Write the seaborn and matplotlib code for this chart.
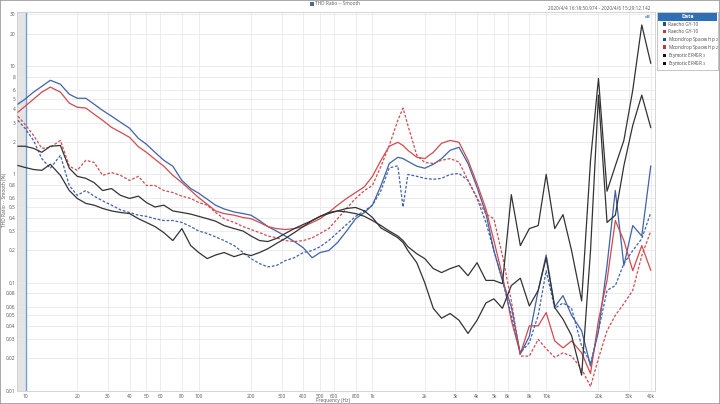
import numpy as np
import pandas as pd
import matplotlib
matplotlib.use("Agg")
import matplotlib.pyplot as plt
import seaborn as sns
from matplotlib.patches import Rectangle
from matplotlib.ticker import FixedLocator, FixedFormatter, NullLocator

# ---------------- data (THD ratio, %, vs frequency, Hz) ----------------
freq = [9.1, 10, 11.2, 12.5, 14, 16, 18, 20, 22.4, 25,
        28, 31.5, 35.5, 40, 45, 50, 56, 63, 71, 80,
        90, 100, 112, 125, 140, 160, 180, 200, 224, 250,
        280, 315, 355, 400, 450, 500, 560, 630, 710, 800,
        900, 1000, 1120, 1250, 1400, 1500, 1600, 1800, 2000, 2240,
        2500, 2800, 3150, 3550, 4000, 4500, 5000, 5600, 6300, 7100,
        8000, 9000, 10000, 11200, 12500, 14000, 16000, 18000, 20000, 22400,
        25000, 28000, 31500, 35500, 40000]

raecho_l = [4.45, 4.95, 5.75, 6.5, 7.4, 6.8, 5.5, 5.05, 5.05, 4.45,
            3.9, 3.45, 3.03, 2.67, 2.15, 1.9, 1.6, 1.35, 1.19, 0.88,
            0.74, 0.67, 0.59, 0.52, 0.48, 0.45, 0.435, 0.42, 0.375, 0.33,
            0.30, 0.27, 0.24, 0.21, 0.17, 0.19, 0.198, 0.235, 0.30, 0.39,
            0.445, 0.52, 0.79, 1.26, 1.44, 1.4, 1.32, 1.19, 1.14, 1.24,
            1.4, 1.67, 1.78, 1.26, 0.76, 0.435, 0.198, 0.105, 0.06, 0.022,
            0.032, 0.085, 0.18, 0.06, 0.076, 0.05, 0.036, 0.017, 0.036, 0.144,
            0.71, 0.144, 0.337, 0.27, 1.2]

raecho_r = [3.75, 4.25, 4.95, 5.75, 6.4, 5.75, 4.55, 4.17, 4.1, 3.6,
            3.16, 2.72, 2.45, 2.2, 1.8, 1.6, 1.38, 1.19, 0.98, 0.84,
            0.71, 0.61, 0.53, 0.46, 0.435, 0.42, 0.40, 0.39, 0.36, 0.33,
            0.316, 0.31, 0.316, 0.33, 0.36, 0.39, 0.445, 0.52, 0.6, 0.68,
            0.77, 0.96, 1.35, 1.82, 1.98, 1.85, 1.67, 1.44, 1.4, 1.6,
            1.94, 2.06, 1.98, 1.35, 0.82, 0.48, 0.245, 0.116, 0.045, 0.022,
            0.04, 0.04, 0.053, 0.029, 0.025, 0.029, 0.0225, 0.0145, 0.045, 0.105,
            0.375, 0.245, 0.129, 0.22, 0.13]

moondrop_l = [3.16, 2.67, 2.06, 1.4, 1.14, 1.5, 0.79, 0.64, 0.71, 0.63,
              0.57, 0.52, 0.47, 0.445, 0.42, 0.41, 0.39, 0.375, 0.375, 0.36,
              0.33, 0.30, 0.285, 0.265, 0.245, 0.22, 0.19, 0.167, 0.15, 0.14,
              0.144, 0.16, 0.17, 0.19, 0.198, 0.215, 0.245, 0.29, 0.345, 0.41,
              0.46, 0.52, 0.71, 1.15, 1.2, 0.5, 1.0, 0.96, 0.92, 0.9,
              0.92, 1.0, 1.02, 0.88, 0.6, 0.36, 0.198, 0.105, 0.05, 0.0225,
              0.028, 0.05, 0.129, 0.058, 0.065, 0.058, 0.026, 0.018, 0.036, 0.085,
              0.094, 0.15, 0.198, 0.255, 0.445]

moondrop_r = [3.45, 2.9, 2.3, 1.74, 1.78, 2.06, 1.19, 1.09, 1.35, 1.29,
              0.98, 1.04, 0.98, 0.88, 0.96, 0.79, 0.79, 0.71, 0.68, 0.63,
              0.6, 0.55, 0.52, 0.445, 0.39, 0.36, 0.33, 0.31, 0.29, 0.27,
              0.26, 0.245, 0.24, 0.245, 0.26, 0.285, 0.316, 0.39, 0.485, 0.6,
              0.71, 0.79, 1.19, 1.85, 3.16, 4.1, 2.84, 1.5, 1.29, 1.26,
              1.35, 1.4, 1.3, 0.88, 0.61, 0.43, 0.39, 0.178, 0.068, 0.021,
              0.021, 0.03, 0.0245, 0.0205, 0.0225, 0.021, 0.016, 0.011, 0.02, 0.036,
              0.05, 0.064, 0.085, 0.178, 0.30]

etymotic_1 = [1.82, 1.82, 1.74, 1.6, 1.82, 1.85, 1.14, 0.96, 0.92, 0.84,
              0.71, 0.74, 0.64, 0.6, 0.63, 0.55, 0.5, 0.52, 0.46, 0.445,
              0.43, 0.41, 0.39, 0.37, 0.337, 0.316, 0.30, 0.27, 0.245, 0.24,
              0.256, 0.285, 0.316, 0.345, 0.375, 0.41, 0.435, 0.46, 0.485, 0.495,
              0.46, 0.40, 0.32, 0.29, 0.26, 0.235, 0.198, 0.153, 0.1, 0.058,
              0.047, 0.052, 0.045, 0.034, 0.045, 0.065, 0.071, 0.058, 0.094, 0.11,
              0.061, 0.085, 0.17, 0.059, 0.046, 0.0325, 0.014, 0.198, 5.4, 0.36,
              0.42, 1.2, 2.84, 5.4, 2.7]

etymotic_2 = [1.21, 1.16, 1.11, 1.09, 1.24, 0.98, 0.71, 0.6, 0.54, 0.52,
              0.485, 0.46, 0.445, 0.435, 0.39, 0.36, 0.33, 0.29, 0.245, 0.316,
              0.22, 0.19, 0.167, 0.18, 0.19, 0.174, 0.185, 0.178, 0.19, 0.206,
              0.23, 0.256, 0.29, 0.33, 0.375, 0.41, 0.445, 0.46, 0.45, 0.435,
              0.41, 0.375, 0.337, 0.30, 0.27, 0.245, 0.215, 0.185, 0.167, 0.135,
              0.124, 0.135, 0.144, 0.116, 0.153, 0.105, 0.105, 0.098, 0.65, 0.22,
              0.316, 0.337, 1.0, 0.316, 0.425, 0.198, 0.068, 1.35, 7.7, 0.7,
              1.2, 2.06, 6.0, 24, 10.6]

legend_labels = ["Raecho GY-10", "Raecho GY-10", "Moondrop Spaceship $_{2}$",
                 "Moondrop Spaceship $_{2}$", "Etymotic ER4SR $_{3}$", "Etymotic ER4SR $_{3}$"]

x_ticks = [10, 20, 30, 40, 50, 60, 80, 100, 200, 300, 400, 500, 600, 800,
           1000, 2000, 3000, 4000, 5000, 6000, 8000, 10000, 20000, 30000, 40000]
x_tick_labels = ["10", "20", "30", "40", "50", "60", "80", "100", "200", "300", "400",
                 "500", "600", "800", "1k", "2k", "3k", "4k", "5k", "6k", "8k", "10k",
                 "20k", "30k", "40k"]
y_ticks = [0.01, 0.02, 0.03, 0.04, 0.05, 0.06, 0.08, 0.1, 0.2, 0.3, 0.4, 0.5, 0.6, 0.8,
           1, 2, 3, 4, 5, 6, 8, 10, 20, 30]
y_tick_labels = ["0.01", "0.02", "0.03", "0.04", "0.05", "0.06", "0.08", "0.1", "0.2",
                 "0.3", "0.4", "0.5", "0.6", "0.8", "1", "2", "3", "4", "5", "6", "8",
                 "10", "20", "30"]

# ---------------- style ----------------
sns.set_theme(style="white")
plt.rcParams["font.family"] = ["Open Sans", "DejaVu Sans"]

W, H = 720, 404
fig = plt.figure(figsize=(W / 100, H / 100), dpi=100)
fig.patch.set_facecolor("white")


def fx(px):
    return px / W


def fy(py):
    return 1 - py / H


ax = fig.add_axes([fx(17), fy(391), fx(655) - fx(17), fy(12) - fy(391)])
ax.set_xscale("log")
ax.set_yscale("log")
ax.set_xlim(9.0, 42300)
ax.set_ylim(0.01, 31.6)

BLUE = "#4062a8"
RED = "#d34a4d"
BLACK = "#333333"

series = [
    (raecho_l, BLUE, "-"),
    (raecho_r, RED, "-"),
    (moondrop_l, BLUE, (0, (2.2, 1.4))),
    (moondrop_r, RED, (0, (2.2, 1.4))),
    (etymotic_1, BLACK, "-"),
    (etymotic_2, BLACK, "-"),
]

for vals, color, ls in series:
    sns.lineplot(x=np.array(freq), y=np.array(vals), ax=ax, color=color,
                 linewidth=0.9, estimator=None, sort=False, zorder=3)
    ax.lines[-1].set_linestyle(ls)

ax.axvspan(9.0, 10.2, color="#e4e4e4", zorder=0, lw=0)
ax.axvline(10.2, color="#6e9fd4", lw=1.0, zorder=2)

ax.xaxis.set_major_locator(FixedLocator(x_ticks))
ax.xaxis.set_major_formatter(FixedFormatter(x_tick_labels))
ax.xaxis.set_minor_locator(NullLocator())
ax.yaxis.set_major_locator(FixedLocator(y_ticks))
ax.yaxis.set_major_formatter(FixedFormatter(y_tick_labels))
ax.yaxis.set_minor_locator(NullLocator())
ax.grid(True, which="major", color="#e6e9ee", lw=0.6, zorder=0)
ax.tick_params(axis="both", length=0, labelsize=3.5, colors="#555555")
ax.tick_params(axis="x", pad=2.0)
ax.tick_params(axis="y", pad=1.0)
for sp in ax.spines.values():
    sp.set_color("#cfcfcf")
    sp.set_linewidth(0.6)
ax.set_xlabel("")
ax.set_ylabel("")

fig.text(fx(333), fy(400.5), "Frequency (Hz)", fontsize=3.5, color="#555555",
         ha="center", va="center")
fig.text(fx(4.2), fy(200), "THD Ratio -- Smooth (%)", fontsize=3.5, color="#555555",
         ha="center", va="center", rotation=90)

# top header legend
fig.add_artist(Rectangle((fx(309.5), fy(6)), 4 / W, 4 / H, transform=fig.transFigure,
                         facecolor="#4a6a94", edgecolor="none"))
fig.text(fx(315), fy(3.8), "THD Ratio -- Smooth", fontsize=3.4, color="#555555",
         ha="left", va="center")
fig.text(fx(650), fy(9), "2020/4/4 16:18:50.974 - 2020/4/6 15:29:12.142",
         fontsize=3.4, color="#555555", ha="right", va="center")
fig.text(fx(648), fy(17), "dB", fontsize=3.2, color="#3a7cc0", ha="center",
         va="center", fontweight="bold")

# right "Data" legend box
fig.add_artist(Rectangle((fx(657), fy(70)), (718 - 657) / W, (70 - 12) / H,
                         transform=fig.transFigure, facecolor="white",
                         edgecolor="#bdbdbd", lw=0.6))
fig.add_artist(Rectangle((fx(658), fy(20.5)), (717 - 658) / W, 7.5 / H,
                         transform=fig.transFigure, facecolor="#2f70b5",
                         edgecolor="none"))
fig.text(fx(687.5), fy(16.8), "Data", fontsize=3.8, color="white", ha="center",
         va="center", fontweight="bold")
swatch = ["#2a4b92", "#cc3535", "#2a4b92", "#cc3535", "#111111", "#111111"]
row_y = [24, 31.7, 39.3, 47, 55.3, 63.3]
for lab, col, yy in zip(legend_labels, swatch, row_y):
    fig.add_artist(Rectangle((fx(662.5), fy(yy + 1.6)), 3.2 / W, 3.2 / H,
                             transform=fig.transFigure, facecolor=col,
                             edgecolor="none"))
    fig.text(fx(667.5), fy(yy), lab, fontsize=3.3, color="#444444",
             ha="left", va="center")

# outer frame
fig.add_artist(Rectangle((0, 0), 1, 1, transform=fig.transFigure, facecolor="none",
                         edgecolor="#9a9a9a", lw=1.2))

fig.savefig("out.png", dpi=100)
